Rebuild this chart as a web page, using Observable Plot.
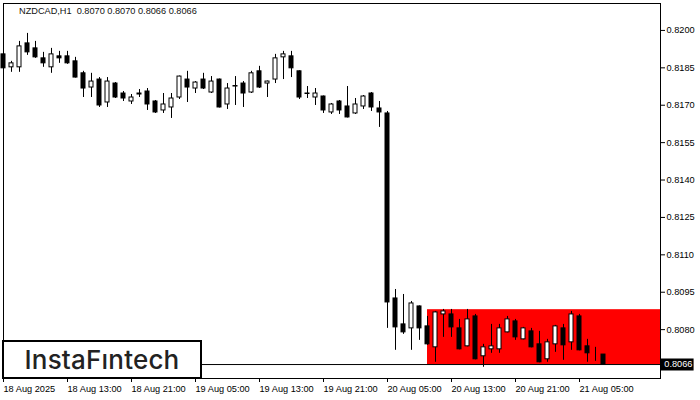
<!DOCTYPE html>
<html>
<head>
<meta charset="utf-8">
<script src="https://cdn.jsdelivr.net/npm/d3@7"></script>
<script src="https://cdn.jsdelivr.net/npm/@observablehq/plot@0.6"></script>
<style>
  html, body { margin: 0; padding: 0; background: #fff; }
  #wrap { position: relative; width: 700px; height: 400px; overflow: hidden; }
  #title { position: absolute; left: 19px; top: 6px; font-family: "Liberation Sans", Arial, sans-serif; font-size: 9.2px; color: #111; white-space: pre; }
  #logo { position: absolute; left: 2px; top: 340px; width: 200px; height: 39px; box-sizing: border-box; border: 2.5px solid #000; background: #fff;
          display: flex; align-items: center; justify-content: center; font: 500 26px Inter, "Noto Sans", sans-serif; color: #222; letter-spacing: 0.2px; }
</style>
</head>
<body>
<div id="wrap">
  <div id="chart"></div>
  <div id="title">NZDCAD,H1  0.8070 0.8070 0.8066 0.8066</div>
  <div id="logo">InstaFıntech</div>
</div>
<script>
// ---- data (hourly bars, NZDCAD H1) ----
const firstBar = "2025-08-18T05:00:00Z";
const opens = [
  0.81904,0.81852,0.81852,0.81948,0.81928,0.81888,0.81852,0.81896,0.81896,0.81876,
  0.81828,0.81771,0.81803,0.81711,0.81787,0.81747,0.81715,0.81747,0.81755,0.81715,
  0.81679,0.81691,0.81731,0.81803,0.81767,0.81803,0.81751,0.81803,0.81703,0.81775,
  0.81787,0.81751,0.81836,0.81787,0.81803,0.81892,0.81896,0.81836,0.81747,0.81731,
  0.81735,0.81671,0.81715,0.81695,0.81667,0.81695,0.81747,0.81687,0.81667,0.80925,
  0.80821,0.80805,0.80893,0.80813,0.80729,0.80861,0.80861,0.80805,0.80733,0.80853,
  0.80693,0.80721,0.80721,0.80789,0.80833,0.80761,0.80793,0.80741,0.80681,0.80741,
  0.80805,0.80749,0.80853,0.80733,0.80689,0.80700];
const highs = [
  0.81908,0.81876,0.81956,0.81988,0.81956,0.81912,0.81928,0.81916,0.81916,0.81892,
  0.81836,0.81828,0.81811,0.81811,0.81791,0.81755,0.81743,0.81763,0.81767,0.81719,
  0.81747,0.81747,0.81817,0.81836,0.81795,0.81828,0.81815,0.81805,0.81787,0.81815,
  0.81795,0.81836,0.81856,0.81797,0.81904,0.81916,0.81916,0.81838,0.81775,0.81767,
  0.81737,0.81707,0.81719,0.81775,0.81727,0.81739,0.81751,0.81715,0.81675,0.80961,
  0.80941,0.80913,0.80895,0.80853,0.80873,0.80881,0.80881,0.80841,0.80881,0.80861,
  0.80741,0.80821,0.80821,0.80853,0.80841,0.80809,0.80805,0.80793,0.80761,0.80817,
  0.80821,0.80873,0.80861,0.80761,0.80729,0.80700];
const lows = [
  0.81832,0.81832,0.81832,0.81900,0.81888,0.81852,0.81828,0.81868,0.81864,0.81809,
  0.81731,0.81731,0.81691,0.81691,0.81727,0.81715,0.81703,0.81731,0.81679,0.81667,
  0.81667,0.81647,0.81723,0.81711,0.81747,0.81763,0.81747,0.81689,0.81683,0.81699,
  0.81691,0.81747,0.81767,0.81731,0.81787,0.81803,0.81811,0.81723,0.81727,0.81699,
  0.81667,0.81663,0.81663,0.81649,0.81663,0.81683,0.81675,0.81611,0.80805,0.80717,
  0.80781,0.80717,0.80757,0.80737,0.80669,0.80769,0.80769,0.80719,0.80731,0.80679,
  0.80649,0.80705,0.80705,0.80787,0.80757,0.80759,0.80727,0.80667,0.80669,0.80709,
  0.80677,0.80717,0.80715,0.80669,0.80673,0.80660];
const closes = [
  0.81848,0.81868,0.81936,0.81912,0.81892,0.81868,0.81904,0.81888,0.81868,0.81811,
  0.81767,0.81795,0.81699,0.81795,0.81731,0.81727,0.81731,0.81743,0.81703,0.81671,
  0.81703,0.81727,0.81815,0.81771,0.81791,0.81767,0.81795,0.81691,0.81767,0.81777,
  0.81747,0.81828,0.81771,0.81795,0.81888,0.81904,0.81848,0.81731,0.81745,0.81747,
  0.81679,0.81703,0.81679,0.81651,0.81703,0.81735,0.81691,0.81671,0.80909,0.80809,
  0.80789,0.80905,0.80805,0.80741,0.80869,0.80873,0.80809,0.80721,0.80841,0.80681,
  0.80729,0.80733,0.80805,0.80841,0.80769,0.80805,0.80729,0.80669,0.80749,0.80813,
  0.80737,0.80861,0.80717,0.80705,0.80689,0.80660];
const yTicks = [0.8080, 0.8095, 0.8110, 0.8125, 0.8140, 0.8155, 0.8170, 0.8185, 0.8200];
const xTickBars = [0, 8, 16, 24, 32, 40, 48, 56, 64, 72];
const xTickLabels = ["18 Aug 2025", "18 Aug 13:00", "18 Aug 21:00", "19 Aug 05:00", "19 Aug 13:00",
                     "19 Aug 21:00", "20 Aug 05:00", "20 Aug 13:00", "20 Aug 21:00", "21 Aug 05:00"];
const zoneStartBar = 53;
const zoneLow = 0.8066;
const zoneHigh = 0.8088;
const lastPrice = 0.8066;

// ---- build table ----
const H = 3600e3;
const t0 = new Date(firstBar);
const times = opens.map((_, i) => new Date(+t0 + i * H));
const bars = opens.map((o, i) => ({t: times[i], open: o, high: highs[i], low: lows[i], close: closes[i]}));
const xEnd = new Date(+t0 + 82.125 * H);
const half = 15 * 60e3;

const up = bars.filter(d => d.close >= d.open);
const down = bars.filter(d => d.close < d.open);
const fmt = d3.format(".4f");

const chart = Plot.plot({
  width: 700,
  height: 400,
  marginLeft: 3,
  marginRight: 40,
  marginTop: 3,
  marginBottom: 22,
  style: {fontFamily: "Liberation Sans, Arial, sans-serif", fontSize: "9.2px", color: "#000", background: "#fff"},
  x: {type: "utc", domain: [t0, xEnd]},
  y: {domain: [0.80604, 0.82108]},
  marks: [
    Plot.rect([{x1: times[zoneStartBar], x2: xEnd, y1: zoneLow, y2: zoneHigh}],
      {x1: "x1", x2: "x2", y1: "y1", y2: "y2", fill: "#ff0000"}),
    Plot.ruleY([lastPrice], {stroke: "#000", strokeWidth: 1}),
    Plot.ruleX(bars, {x: "t", y1: "low", y2: "high", stroke: "#000", strokeWidth: 1}),
    Plot.rect(up, {x1: d => new Date(+d.t - half), x2: d => new Date(+d.t + half), y1: "open", y2: "close",
      fill: "#fff", stroke: "#000", strokeWidth: 1}),
    Plot.rect(down, {x1: d => new Date(+d.t - half), x2: d => new Date(+d.t + half), y1: "open", y2: "close",
      fill: "#000", stroke: "#000", strokeWidth: 1}),
    Plot.frame({stroke: "#000"}),
    Plot.axisY({anchor: "right", ticks: yTicks, tickFormat: fmt, tickSize: 4, tickPadding: 2, label: null}),
    Plot.axisX({anchor: "bottom", ticks: xTickBars.map(i => times[i]), tickFormat: (d, i) => xTickLabels[i],
      tickSize: 4, tickPadding: 3, textAnchor: "start", label: null}),
    Plot.ruleY([lastPrice], {x1: new Date(+xEnd + 0.1 * H), x2: new Date(+xEnd + 4.2 * H), stroke: "#000", strokeWidth: 12}),
    Plot.text([lastPrice], {y: d => d, x: new Date(+xEnd + 0.1 * H), dx: 3, textAnchor: "start", fill: "#fff", text: d => fmt(d)})
  ]
});
document.getElementById("chart").appendChild(chart);
</script>
</body>
</html>
